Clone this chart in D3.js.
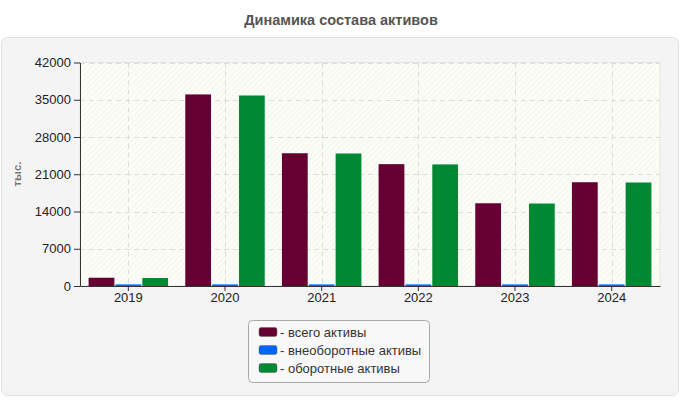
<!DOCTYPE html>
<html><head><meta charset="utf-8">
<script src="https://cdn.jsdelivr.net/npm/d3@7"></script>
<style>body{margin:0;background:#fff;font-family:"Liberation Sans",Arial,sans-serif;}</style>
</head><body>
<svg id="c" width="680" height="400"></svg>
<script>
const years = ["2019","2020","2021","2022","2023","2024"];
const seriesNames = ["всего активы","внеоборотные активы","оборотные активы"];
const seriesColors = ["#660033","#0066ff","#008833"];
const totalAssets = [1550, 36000, 24950, 22900, 15550, 19500];
const nonCurrentAssets = [300, 300, 300, 300, 300, 300];
const currentAssets = [1500, 35800, 24900, 22850, 15500, 19450];
const yTicks = [0,7000,14000,21000,28000,35000,42000];

const series = [totalAssets, nonCurrentAssets, currentAssets];
const FONT = "Liberation Sans, Arial, sans-serif";
const svg = d3.select("#c");
const defs = svg.append("defs");
const pat = defs.append("pattern").attr("id","hatch").attr("patternUnits","userSpaceOnUse")
  .attr("width",4).attr("height",4).attr("patternTransform","rotate(45)");
pat.append("rect").attr("width",4).attr("height",4).attr("fill","#fdfdf7");
pat.append("line").attr("x1",0).attr("y1",0).attr("x2",0).attr("y2",4).attr("stroke","#ededea").attr("stroke-width",1);

svg.append("text").attr("x",341).attr("y",25).attr("text-anchor","middle").attr("font-family",FONT)
  .attr("font-size",14.5).attr("font-weight","bold").attr("fill","#555").text("Динамика состава активов");

svg.append("rect").attr("x",1.5).attr("y",37.5).attr("width",677).attr("height",358).attr("rx",6)
  .attr("fill","#f4f4f4").attr("stroke","#e2e2e2");

const m = {l:80, r:660, t:62.5, b:286};
const x = d3.scaleBand().domain(years).range([m.l,m.r]);
const y = d3.scaleLinear().domain([0,42000]).range([m.b,m.t]);

svg.append("rect").attr("x",m.l).attr("y",m.t).attr("width",m.r-m.l).attr("height",m.b-m.t).attr("fill","url(#hatch)")
  .attr("stroke","#e4e4e4");

// grid
svg.append("g").selectAll("line").data(yTicks.slice(1)).join("line")
  .attr("x1",m.l).attr("x2",m.r).attr("y1",d=>Math.round(y(d))+0.5).attr("y2",d=>Math.round(y(d))+0.5)
  .attr("stroke","#dcdcdc").attr("stroke-dasharray","5,4");
svg.append("g").selectAll("line").data(years).join("line")
  .attr("x1",d=>Math.round(x(d)+x.bandwidth()/2)+0.5).attr("x2",d=>Math.round(x(d)+x.bandwidth()/2)+0.5)
  .attr("y1",m.t).attr("y2",m.b).attr("stroke","#dcdcdc").attr("stroke-dasharray","5,4");

const inner = d3.scaleBand().domain([0,1,2]).range([0,x.bandwidth()]).paddingOuter(0.32).paddingInner(0.04);
const g = svg.append("g");
series.forEach((vals,si)=>{
  g.selectAll(null).data(vals).join("rect")
    .attr("x",(d,i)=>x(years[i])+inner(si))
    .attr("width",inner.bandwidth())
    .attr("y",d=>y(d)).attr("height",d=>m.b-y(d))
    .attr("fill",seriesColors[si]);
});

const ya = svg.append("g").attr("transform",`translate(${m.l},0)`)
  .call(d3.axisLeft(y).tickValues(yTicks).tickFormat(d3.format("d")).tickSize(6).tickSizeOuter(0).tickPadding(3));
ya.select(".domain").attr("stroke","#333");
ya.selectAll(".tick line").attr("stroke","#333");
ya.selectAll("text").attr("font-size",13).attr("fill","#222").attr("font-family",FONT);

const xa = svg.append("g").attr("transform",`translate(0,${m.b})`)
  .call(d3.axisBottom(x).tickSize(5).tickSizeOuter(0).tickPadding(2));
xa.select(".domain").attr("stroke","#333");
xa.selectAll(".tick line").attr("stroke","#333");
xa.selectAll("text").attr("font-size",13).attr("fill","#222").attr("font-family",FONT);

svg.append("text").attr("transform","translate(21,174) rotate(-90)").attr("text-anchor","middle").attr("font-family",FONT)
  .attr("font-size",11.5).attr("font-weight","bold").attr("fill","#777").text("тыс.");

// legend
const lg = svg.append("g");
lg.append("rect").attr("x",248.5).attr("y",320.5).attr("width",181).attr("height",62).attr("rx",4)
  .attr("fill","#f8f8f8").attr("stroke","#aaa");
seriesNames.forEach((n,i)=>{
  const yy = 332 + i*18;
  lg.append("rect").attr("x",259).attr("y",yy-4.5).attr("width",18).attr("height",9).attr("rx",2)
    .attr("fill",seriesColors[i]).attr("stroke","#666").attr("stroke-width",0.5);
  lg.append("text").attr("x",280).attr("y",yy+4.5).attr("font-family",FONT).attr("font-size",13).attr("fill","#333").text("- "+n);
});
</script>
</body></html>
